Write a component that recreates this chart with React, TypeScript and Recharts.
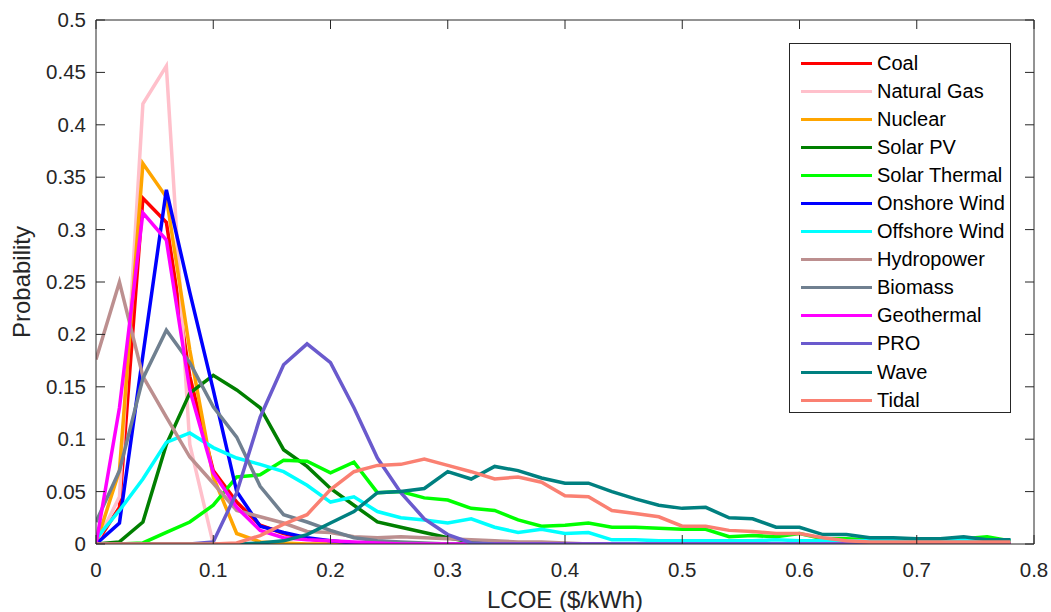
import React from 'react';
import {
  ComposedChart,
  Line,
  XAxis,
  YAxis,
  Legend,
  Label,
} from 'recharts';

// LCOE bins ($/kWh)
const lcoeBins = [
  0, 0.02, 0.04, 0.06, 0.08, 0.1, 0.12, 0.14, 0.16, 0.18,
  0.2, 0.22, 0.24, 0.26, 0.28, 0.3, 0.32, 0.34, 0.36, 0.38,
  0.4, 0.42, 0.44, 0.46, 0.48, 0.5, 0.52, 0.54, 0.56, 0.58,
  0.6, 0.62, 0.64, 0.66, 0.68, 0.7, 0.72, 0.74, 0.76, 0.78,
];

const coal = [
  0, 0.035, 0.33, 0.307, 0.16, 0.07, 0.04, 0.018, 0.01, 0.005,
  0.002, 0.001, 0, 0, 0, 0, 0, 0, 0, 0,
  0, 0, 0, 0, 0, 0, 0, 0, 0, 0,
  0, 0, 0, 0, 0, 0, 0, 0, 0, 0,
];
const naturalGas = [
  0, 0.045, 0.42, 0.456, 0.095, 0, 0, 0, 0, 0,
  0, 0, 0, 0, 0, 0, 0, 0, 0, 0,
  0, 0, 0, 0, 0, 0, 0, 0, 0, 0,
  0, 0, 0, 0, 0, 0, 0, 0, 0, 0,
];
const nuclear = [
  0, 0.07, 0.363, 0.331, 0.185, 0.064, 0.01, 0.002, 0.001, 0,
  0, 0, 0, 0, 0, 0, 0, 0, 0, 0,
  0, 0, 0, 0, 0, 0, 0, 0, 0, 0,
  0, 0, 0, 0, 0, 0, 0, 0, 0, 0,
];
const solarPV = [
  0, 0.002, 0.021, 0.095, 0.144, 0.161, 0.147, 0.13, 0.09, 0.074,
  0.053, 0.037, 0.021, 0.016, 0.011, 0.006, 0.002, 0.001, 0.001, 0,
  0, 0, 0, 0, 0, 0, 0, 0, 0, 0,
  0, 0, 0, 0, 0, 0, 0, 0, 0, 0,
];
const solarThermal = [
  0, 0, 0.001, 0.011, 0.021, 0.037, 0.064, 0.066, 0.08, 0.079,
  0.068, 0.078, 0.049, 0.05, 0.044, 0.042, 0.034, 0.032, 0.023, 0.017,
  0.018, 0.02, 0.016, 0.016, 0.015, 0.014, 0.014, 0.007, 0.008, 0.007,
  0.01, 0.005, 0.005, 0.004, 0.004, 0.004, 0.004, 0.005, 0.007, 0.003,
];
const onshoreWind = [
  0, 0.02, 0.18, 0.338, 0.24, 0.147, 0.05, 0.017, 0.011, 0.006,
  0.003, 0.001, 0, 0, 0, 0, 0, 0, 0, 0,
  0, 0, 0, 0, 0, 0, 0, 0, 0, 0,
  0, 0, 0, 0, 0, 0, 0, 0, 0, 0,
];
const offshoreWind = [
  0.005, 0.032, 0.062, 0.097, 0.106, 0.092, 0.082, 0.076, 0.069, 0.056,
  0.04, 0.045, 0.031, 0.025, 0.023, 0.02, 0.024, 0.016, 0.011, 0.014,
  0.01, 0.011, 0.004, 0.004, 0.003, 0.003, 0.003, 0.003, 0.003, 0.004,
  0.003, 0.003, 0.003, 0.003, 0.003, 0.003, 0.003, 0.004, 0.003, 0.003,
];
const hydropower = [
  0.176, 0.25, 0.16, 0.121, 0.083, 0.058, 0.032, 0.026, 0.02, 0.012,
  0.011, 0.007, 0.006, 0.007, 0.006, 0.005, 0.004, 0.003, 0.002, 0.002,
  0.001, 0, 0, 0, 0, 0, 0, 0, 0, 0,
  0, 0, 0, 0, 0, 0, 0, 0, 0, 0,
];
const biomass = [
  0.021, 0.07, 0.158, 0.204, 0.173, 0.131, 0.102, 0.055, 0.028, 0.021,
  0.013, 0.006, 0.003, 0.002, 0.001, 0, 0, 0, 0, 0,
  0, 0, 0, 0, 0, 0, 0, 0, 0, 0,
  0, 0, 0, 0, 0, 0, 0, 0, 0, 0,
];
const geothermal = [
  0, 0.13, 0.316, 0.29, 0.147, 0.068, 0.035, 0.013, 0.006, 0.004,
  0.003, 0.002, 0.001, 0, 0, 0, 0, 0, 0, 0,
  0, 0, 0, 0, 0, 0, 0, 0, 0, 0,
  0, 0, 0, 0, 0, 0, 0, 0, 0, 0,
];
const pro = [
  0, 0, 0, 0, 0, 0.002, 0.049, 0.121, 0.171, 0.191,
  0.173, 0.13, 0.082, 0.049, 0.024, 0.009, 0.001, 0, 0, 0,
  0, 0, 0, 0, 0, 0, 0, 0, 0, 0,
  0, 0, 0, 0, 0, 0, 0, 0, 0, 0,
];
const wave = [
  0, 0, 0, 0, 0, 0, 0, 0.001, 0.003, 0.009,
  0.02, 0.031, 0.049, 0.05, 0.053, 0.069, 0.062, 0.074, 0.07, 0.063,
  0.058, 0.058, 0.05, 0.043, 0.037, 0.034, 0.035, 0.025, 0.024, 0.016,
  0.016, 0.009, 0.009, 0.006, 0.006, 0.005, 0.005, 0.007, 0.004, 0.004,
];
const tidal = [
  0, 0, 0, 0, 0, 0, 0.001, 0.008, 0.019, 0.028,
  0.052, 0.069, 0.075, 0.076, 0.081, 0.075, 0.069, 0.062, 0.064, 0.059,
  0.046, 0.045, 0.032, 0.029, 0.026, 0.017, 0.017, 0.013, 0.012, 0.01,
  0.01, 0.006, 0.003, 0.002, 0.002, 0.002, 0.002, 0.002, 0.002, 0.002,
];

const xTicks = [0, 0.1, 0.2, 0.3, 0.4, 0.5, 0.6, 0.7, 0.8];
const yTicks = [0, 0.05, 0.1, 0.15, 0.2, 0.25, 0.3, 0.35, 0.4, 0.45, 0.5];

const series = [
  { name: 'Coal', color: '#ff0000', values: coal },
  { name: 'Natural Gas', color: '#ffc0cb', values: naturalGas },
  { name: 'Nuclear', color: '#ffa500', values: nuclear },
  { name: 'Solar PV', color: '#007f00', values: solarPV },
  { name: 'Solar Thermal', color: '#00ff00', values: solarThermal },
  { name: 'Onshore Wind', color: '#0000ff', values: onshoreWind },
  { name: 'Offshore Wind', color: '#00ffff', values: offshoreWind },
  { name: 'Hydropower', color: '#bc8f8f', values: hydropower },
  { name: 'Biomass', color: '#708090', values: biomass },
  { name: 'Geothermal', color: '#ff00ff', values: geothermal },
  { name: 'PRO', color: '#6a5acd', values: pro },
  { name: 'Wave', color: '#008080', values: wave },
  { name: 'Tidal', color: '#fa8072', values: tidal },
];

const data = lcoeBins.map((x, i) => {
  const row: Record<string, number> = { x };
  series.forEach((s) => {
    row[s.name] = s.values[i];
  });
  return row;
});

const FONT = '"Liberation Sans", Arial, Helvetica, sans-serif';
const INK = '#262626';
const TICK_LEN = 9;

// MATLAB-style inward ticks: draw the tick line ourselves, label outside
const BottomTick = ({ x, y, payload }: any) => (
  <g>
    <line x1={x} y1={y} x2={x} y2={y - TICK_LEN} stroke={INK} strokeWidth={1} />
    <text x={x} y={y + 33} textAnchor="middle" fontSize={20.5} fontFamily={FONT} fill={INK}>
      {String(payload.value)}
    </text>
  </g>
);

const TopTick = ({ x, y }: any) => (
  <line x1={x} y1={y} x2={x} y2={y + TICK_LEN} stroke={INK} strokeWidth={1} />
);

const LeftTick = ({ x, y, payload }: any) => (
  <g>
    <line x1={x} y1={y} x2={x + TICK_LEN} y2={y} stroke={INK} strokeWidth={1} />
    <text x={x - 10} y={y + 7} textAnchor="end" fontSize={20.5} fontFamily={FONT} fill={INK}>
      {String(payload.value)}
    </text>
  </g>
);

const RightTick = ({ x, y }: any) => (
  <line x1={x} y1={y} x2={x - TICK_LEN} y2={y} stroke={INK} strokeWidth={1} />
);

const YTitle = ({ viewBox }: any) => {
  const cx = viewBox.x + 30;
  const cy = viewBox.y + viewBox.height / 2;
  return (
    <text
      x={cx}
      y={cy}
      transform={`rotate(-90 ${cx} ${cy})`}
      textAnchor="middle"
      fontSize={24}
      fontFamily={FONT}
      fill={INK}
    >
      Probability
    </text>
  );
};

// legend keeps the plotting order, not Recharts' alphabetical sort
const LegendBox = () => (
  <div
    style={{
      border: `1px solid ${INK}`,
      background: '#fff',
      width: 222,
      height: 370,
      paddingTop: 5,
      boxSizing: 'border-box',
      fontFamily: FONT,
    }}
  >
    {series.map((s) => (
      <div key={s.name} style={{ display: 'flex', alignItems: 'center', height: 28.1 }}>
        <div style={{ width: 71, height: 3, background: s.color, marginLeft: 11, marginRight: 5 }} />
        <span style={{ fontSize: 20, color: '#000', whiteSpace: 'nowrap' }}>{s.name}</span>
      </div>
    ))}
  </div>
);

export default function App() {
  // last series is tied to the top/right axes so those mirror axes get drawn
  const lastName = series[series.length - 1].name;
  return (
    <div style={{ position: 'absolute', left: 0, top: 0, width: 1051, height: 612, background: '#fff' }}>
      <ComposedChart
        width={1051}
        height={612}
        data={data}
        margin={{ top: 19, right: 16, bottom: 0, left: 0 }}
      >
        <XAxis
          dataKey="x"
          type="number"
          domain={[0, 0.8]}
          ticks={xTicks}
          interval={0}
          allowDataOverflow
          height={68}
          tickSize={0}
          tickMargin={0}
          tickLine={false}
          axisLine={{ stroke: INK, strokeWidth: 1 }}
          tick={<BottomTick />}
        >
          <Label
            value="LCOE ($/kWh)"
            position="insideBottom"
            offset={4}
            style={{ fontSize: 24, fontFamily: FONT, fill: INK }}
          />
        </XAxis>
        <XAxis
          xAxisId="top"
          dataKey="x"
          orientation="top"
          type="number"
          domain={[0, 0.8]}
          ticks={xTicks}
          interval={0}
          allowDataOverflow
          height={1}
          tickSize={0}
          tickMargin={0}
          tickLine={false}
          axisLine={{ stroke: INK, strokeWidth: 1 }}
          tick={<TopTick />}
        />
        <YAxis
          type="number"
          domain={[0, 0.5]}
          ticks={yTicks}
          interval={0}
          allowDataOverflow
          width={96}
          tickSize={0}
          tickMargin={0}
          tickLine={false}
          axisLine={{ stroke: INK, strokeWidth: 1 }}
          tick={<LeftTick />}
        >
          <Label content={<YTitle />} />
        </YAxis>
        <YAxis
          yAxisId="right"
          orientation="right"
          type="number"
          domain={[0, 0.5]}
          ticks={yTicks}
          interval={0}
          allowDataOverflow
          width={1}
          tickSize={0}
          tickMargin={0}
          tickLine={false}
          axisLine={{ stroke: INK, strokeWidth: 1 }}
          tick={<RightTick />}
        />
        <Legend
          layout="vertical"
          align="center"
          verticalAlign="middle"
          content={<LegendBox />}
          wrapperStyle={{ left: 789, top: 43, width: 224, height: 372 }}
        />
        {series.map((s) => (
          <Line
            key={s.name}
            type="linear"
            dataKey={s.name}
            name={s.name}
            xAxisId={s.name === lastName ? 'top' : 0}
            yAxisId={s.name === lastName ? 'right' : 0}
            stroke={s.color}
            strokeWidth={3.5}
            dot={false}
            activeDot={false}
            isAnimationActive={false}
          />
        ))}
      </ComposedChart>
    </div>
  );
}
